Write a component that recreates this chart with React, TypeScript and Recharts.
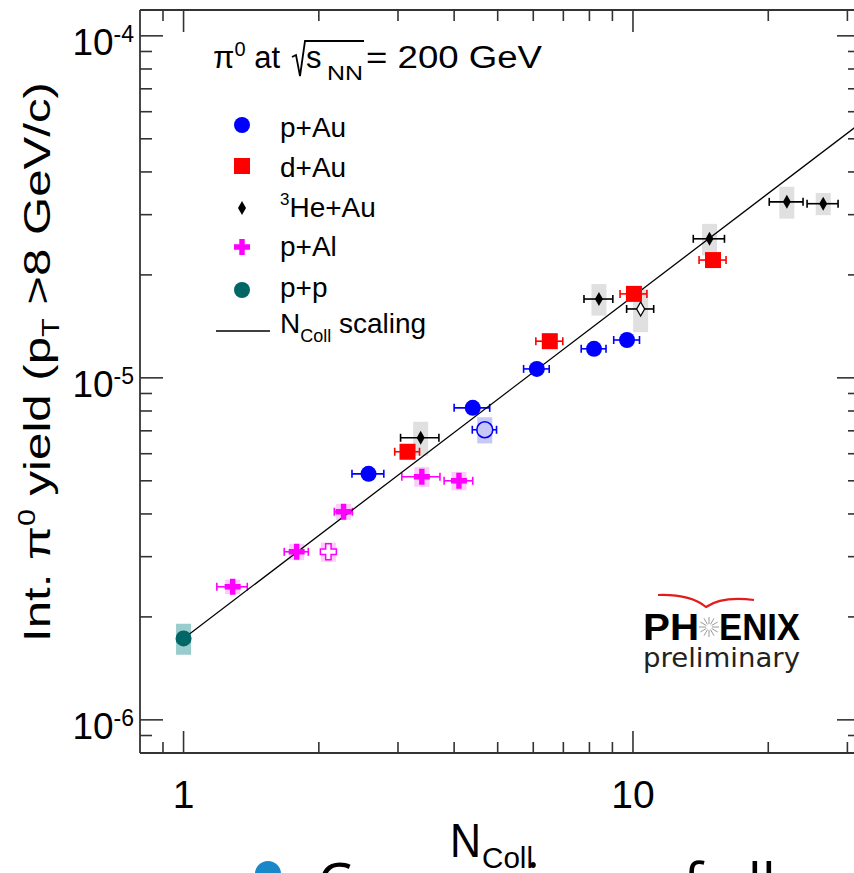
import { ScatterChart, Scatter, XAxis, YAxis, ErrorBar, ReferenceLine } from 'recharts'

const FONT = '"Liberation Sans", Arial, Helvetica, sans-serif'
const AXIS = '#333333'

// chart box and plot frame (ROOT style: ticks on all four sides)
const CHART_W = 862
const CHART_H = 873
const FRAME = { left: 140, right: 860, top: 10, bottom: 753 }

const X_DOMAIN = [0.8, 32]
const Y_DOMAIN = [8e-7, 1.19e-4]
const X_TICKS = [0.9, 1, 2, 3, 4, 5, 6, 7, 8, 9, 10, 20, 30]
const Y_TICKS = [
  9e-7, 1e-6, 2e-6, 3e-6, 4e-6, 5e-6, 6e-6, 7e-6, 8e-6, 9e-6,
  1e-5, 2e-5, 3e-5, 4e-5, 5e-5, 6e-5, 7e-5, 8e-5, 9e-5, 1e-4,
]

// p+Au
const P_AU_NCOLL = [2.58, 4.4, 6.11, 8.19, 9.7]
const P_AU_YIELD = [5.24e-6, 8.17e-6, 1.062e-5, 1.216e-5, 1.29e-5]
const P_AU_XERR = [0.21, 0.4, 0.4, 0.52, 0.64]
const P_AU_OPEN_NCOLL = [4.68]
const P_AU_OPEN_YIELD = [7.05e-6]
const P_AU_OPEN_XERR = [0.29]
const P_AU_OPEN_SYS = [0.62e-6]

// d+Au
const D_AU_NCOLL = [3.15, 6.53, 10.05, 15.07]
const D_AU_YIELD = [6.08e-6, 1.28e-5, 1.76e-5, 2.21e-5]
const D_AU_XERR = [0.2, 0.45, 0.69, 1.04]

// 3He+Au
const HE_AU_NCOLL = [3.37, 8.4, 14.8, 22.0, 26.5]
const HE_AU_YIELD = [6.68e-6, 1.7e-5, 2.55e-5, 3.27e-5, 3.23e-5]
const HE_AU_XERR = [0.33, 0.62, 1.18, 1.9, 2.1]
const HE_AU_SYS = [0.76e-6, 0.18e-5, 0.27e-5, 0.35e-5, 0.24e-5]
const HE_AU_OPEN_NCOLL = [10.4]
const HE_AU_OPEN_YIELD = [1.59e-5]
const HE_AU_OPEN_XERR = [0.72]
const HE_AU_OPEN_SYS = [0.23e-5]

// p+Al
const P_AL_NCOLL = [1.286, 1.785, 2.27, 3.39, 4.1]
const P_AL_YIELD = [2.45e-6, 3.1e-6, 4.06e-6, 5.14e-6, 5.0e-6]
const P_AL_XERR = [0.1, 0.11, 0.105, 0.33, 0.3]
const P_AL_SYS = [0.12e-6, 0.17e-6, 0.22e-6, 0.34e-6, 0.31e-6]
const P_AL_OPEN_NCOLL = [2.1]
const P_AL_OPEN_YIELD = [3.1e-6]
const P_AL_OPEN_SYS = [0.2e-6]

// p+p
const PP_NCOLL = [1]
const PP_YIELD = [1.73e-6]
const PP_SYS = [0.18e-6]

// N_coll scaling line
const SCALING_NCOLL = [1, 32]
const SCALING_YIELD = [1.73e-6, 5.54e-5]

const pts = (n: number[], y: number[], xe?: number[], sys?: number[]) =>
  n.map((x, i) => ({ x, y: y[i], xErr: xe ? xe[i] : 0, sys: sys ? sys[i] : 0 }))

const pAu = pts(P_AU_NCOLL, P_AU_YIELD, P_AU_XERR)
const pAuOpen = pts(P_AU_OPEN_NCOLL, P_AU_OPEN_YIELD, P_AU_OPEN_XERR, P_AU_OPEN_SYS)
const dAu = pts(D_AU_NCOLL, D_AU_YIELD, D_AU_XERR)
const heAu = pts(HE_AU_NCOLL, HE_AU_YIELD, HE_AU_XERR, HE_AU_SYS)
const heAuOpen = pts(HE_AU_OPEN_NCOLL, HE_AU_OPEN_YIELD, HE_AU_OPEN_XERR, HE_AU_OPEN_SYS)
const pAl = pts(P_AL_NCOLL, P_AL_YIELD, P_AL_XERR, P_AL_SYS)
const pAlOpen = pts(P_AL_OPEN_NCOLL, P_AL_OPEN_YIELD, undefined, P_AL_OPEN_SYS)
const pp = pts(PP_NCOLL, PP_YIELD, undefined, PP_SYS)
const scaling = pts(SCALING_NCOLL, SCALING_YIELD)

const isMajor = (v: number) => Math.abs(Math.log10(v) - Math.round(Math.log10(v))) < 1e-6

// marker shapes
const crossPath = (cx: number, cy: number, s = 8, t = 2.7) =>
  `M${cx - t},${cy - s}H${cx + t}V${cy - t}H${cx + s}V${cy + t}H${cx + t}V${cy + s}H${cx - t}V${cy + t}H${cx - s}V${cy - t}H${cx - t}Z`
const diamondPath = (cx: number, cy: number) =>
  `M${cx},${cy - 7}L${cx + 4},${cy}L${cx},${cy + 7}L${cx - 4},${cy}Z`

const Dot = (fill: string, stroke = 'none', sw = 0) => (p: any) =>
  <circle cx={p.cx} cy={p.cy} r={8} fill={fill} stroke={stroke} strokeWidth={sw} />
const Square = (p: any) => <rect x={p.cx - 8} y={p.cy - 8} width={16} height={16} fill="#ff0000" />
const Diamond = (p: any) => <path d={diamondPath(p.cx, p.cy)} fill="#000" />
const OpenDiamond = (p: any) => <path d={diamondPath(p.cx, p.cy)} fill="#fff" stroke="#000" strokeWidth={1.3} />
const Cross = (p: any) => <path d={crossPath(p.cx, p.cy)} fill="#ff00ff" />
const OpenCross = (p: any) => <path d={crossPath(p.cx, p.cy)} fill="#fff" stroke="#ff00ff" strokeWidth={1.5} />
const Nothing = () => <g />

function YTick(props: any) {
  const { y, payload } = props
  const v = payload.value
  const major = isMajor(v)
  const len = major ? 23 : 12
  return (
    <g>
      <line x1={FRAME.left} x2={FRAME.left + len} y1={y} y2={y} stroke={AXIS} strokeWidth={1.6} />
      <line x1={FRAME.right - len} x2={FRAME.right} y1={y} y2={y} stroke={AXIS} strokeWidth={1.6} />
      {major && (
        <text x={134} y={y + 19} textAnchor="end" fontFamily={FONT} fill="#000">
          <tspan fontSize={37}>10</tspan>
          <tspan fontSize={23} dy={-13}>{Math.round(Math.log10(v))}</tspan>
        </text>
      )}
    </g>
  )
}

function XTick(props: any) {
  const { x, payload } = props
  const v = payload.value
  const major = isMajor(v)
  const len = major ? 22 : 11
  return (
    <g>
      <line x1={x} x2={x} y1={FRAME.bottom - len} y2={FRAME.bottom} stroke={AXIS} strokeWidth={1.6} />
      <line x1={x} x2={x} y1={FRAME.top} y2={FRAME.top + len} stroke={AXIS} strokeWidth={1.6} />
      {major && (
        <text x={x} y={808} textAnchor="middle" fontFamily={FONT} fontSize={39} fill="#000">
          {v}
        </text>
      )}
    </g>
  )
}

function Overlay() {
  const legendRows = [
    { y: 137, label: 'p+Au' },
    { y: 177, label: 'd+Au' },
    { y: 217, label: 'He+Au' },
    { y: 256, label: 'p+Al' },
    { y: 297, label: 'p+p' },
  ]
  const fit = { lengthAdjust: 'spacingAndGlyphs' as const }
  return (
    <svg width={854} height={873} style={{ position: 'absolute', left: 0, top: 0, pointerEvents: 'none' }}>
      <g fontFamily={FONT} fill="#000" style={{ whiteSpace: 'pre' }}>
        {/* title */}
        <text x={213} y={68} fontSize={31} textLength={67} {...fit}>
          π<tspan fontSize={20} dy={-12}>0</tspan>
          <tspan dy={12}>{' at'}</tspan>
        </text>
        <path d="M292,57 L296,55 L300,76 L305,41 L364,41" fill="none" stroke="#000" strokeWidth={1.8} />
        <text x={306} y={68} fontSize={31}>s</text>
        <text x={327} y={80} fontSize={21} textLength={36} {...fit}>NN</text>
        <text x={366} y={68} fontSize={31} textLength={176} {...fit}>= 200 GeV</text>

        {/* legend */}
        <circle cx={242} cy={125} r={8} fill="#0000ff" />
        <rect x={234} y={158} width={16} height={16} fill="#ff0000" />
        <path d={diamondPath(242, 208)} fill="#000" />
        <path d={crossPath(242, 247)} fill="#ff00ff" />
        <circle cx={242} cy={290} r={8} fill="#006666" />
        <line x1={216} x2={270} y1={331} y2={331} stroke="#000" strokeWidth={1.3} />
        {legendRows.map((r) => (
          <text key={r.label} x={280} y={r.y} fontSize={28}>
            {r.label === 'He+Au' ? (
              <>
                <tspan fontSize={17} dy={-12}>3</tspan>
                <tspan dy={12}>He+Au</tspan>
              </>
            ) : r.label}
          </text>
        ))}
        <text x={280} y={333} fontSize={28}>
          N<tspan fontSize={18} dy={9}>Coll</tspan>
          <tspan dy={-9}>{' scaling'}</tspan>
        </text>

        {/* axis titles */}
        <text x={50} y={362} fontSize={37} textAnchor="middle" transform="rotate(-90 50 362)" textLength={560} {...fit}>
          Int. π<tspan fontSize={23} dy={-15}>0</tspan>
          <tspan dy={15}>{' yield  (p'}</tspan>
          <tspan fontSize={23} dy={9}>T</tspan>
          <tspan dy={-9}>{' >8 GeV/c)'}</tspan>
        </text>
        <text x={450} y={857} fontSize={49} textLength={31} {...fit}>N</text>
        <text x={482} y={868} fontSize={30} textLength={51} {...fit}>Coll</text>

        {/* PHENIX logo */}
        <path d="M658,595 Q690,594 706,607 Q722,596 754,600" fill="none" stroke="#e31b1b" strokeWidth={2.2} />
        <text x={643} y={640} fontSize={37} fontWeight="bold" textLength={56} {...fit}>PH</text>
        <g stroke="#9a9a9a" strokeWidth={1}>
          {Array.from({ length: 12 }, (_, i) => {
            const a = (i * Math.PI) / 6
            return <line key={i} x1={709 + 3 * Math.cos(a)} y1={627 + 3 * Math.sin(a)} x2={709 + 10 * Math.cos(a)} y2={627 + 10 * Math.sin(a)} />
          })}
        </g>
        <text x={719} y={640} fontSize={37} fontWeight="bold" textLength={81} {...fit}>ENIX</text>
        <text x={643} y={667} fontSize={27} fontFamily='"DejaVu Sans", sans-serif' fill="#222" textLength={157} {...fit}>preliminary</text>

        {/* cropped slide text below the figure */}
        <circle cx={268} cy={874} r={13} fill="#1a88c8" />
        <text x={317} y={904} fontSize={56} fontFamily='"Open Sans", sans-serif'>Comparison of all</text>
      </g>
    </svg>
  )
}

export default function App() {
  return (
    <div style={{ position: 'absolute', left: 0, top: 0, width: 854, height: 873, overflow: 'hidden', background: '#fff' }}>
      <ScatterChart width={CHART_W} height={CHART_H} margin={{ top: FRAME.top, right: CHART_W - FRAME.right, bottom: 0, left: 0 }}>
        <XAxis
          type="number"
          dataKey="x"
          scale="log"
          domain={X_DOMAIN}
          allowDataOverflow
          ticks={X_TICKS}
          interval={0}
          height={CHART_H - FRAME.bottom}
          tickLine={false}
          axisLine={{ stroke: AXIS, strokeWidth: 1.8 }}
          tick={<XTick />}
        />
        <YAxis
          type="number"
          dataKey="y"
          scale="log"
          domain={Y_DOMAIN}
          allowDataOverflow
          ticks={Y_TICKS}
          interval={0}
          width={FRAME.left}
          tickLine={false}
          axisLine={{ stroke: AXIS, strokeWidth: 1.8 }}
          tick={<YTick />}
        />
        <ReferenceLine y={Y_DOMAIN[1]} stroke={AXIS} strokeWidth={1.8} />
        <ReferenceLine x={X_DOMAIN[1]} stroke={AXIS} strokeWidth={1.8} />

        {/* systematic boxes */}
        <Scatter data={pp} shape={Nothing} isAnimationActive={false}>
          <ErrorBar dataKey="sys" direction="y" width={0} stroke="#99cccc" strokeWidth={15} isAnimationActive={false} />
        </Scatter>
        <Scatter data={pAl} shape={Nothing} isAnimationActive={false}>
          <ErrorBar dataKey="sys" direction="y" width={0} stroke="#fbcdfb" strokeWidth={15} isAnimationActive={false} />
        </Scatter>
        <Scatter data={pAlOpen} shape={Nothing} isAnimationActive={false}>
          <ErrorBar dataKey="sys" direction="y" width={0} stroke="#fbcdfb" strokeWidth={15} isAnimationActive={false} />
        </Scatter>
        <Scatter data={pAuOpen} shape={Nothing} isAnimationActive={false}>
          <ErrorBar dataKey="sys" direction="y" width={0} stroke="#c8c8f4" strokeWidth={15} isAnimationActive={false} />
        </Scatter>
        <Scatter data={heAu} shape={Nothing} isAnimationActive={false}>
          <ErrorBar dataKey="sys" direction="y" width={0} stroke="#e0e0e0" strokeWidth={15} isAnimationActive={false} />
        </Scatter>
        <Scatter data={heAuOpen} shape={Nothing} isAnimationActive={false}>
          <ErrorBar dataKey="sys" direction="y" width={0} stroke="#e0e0e0" strokeWidth={15} isAnimationActive={false} />
        </Scatter>

        {/* N_coll scaling */}
        <Scatter data={scaling} shape={Nothing} line={{ stroke: '#000', strokeWidth: 1.3 }} lineType="joint" isAnimationActive={false} />

        {/* data points */}
        <Scatter data={pAl} shape={Cross} isAnimationActive={false}>
          <ErrorBar dataKey="xErr" direction="x" width={4} stroke="#ff00ff" strokeWidth={1.6} isAnimationActive={false} />
        </Scatter>
        <Scatter data={pAlOpen} shape={OpenCross} isAnimationActive={false} />
        <Scatter data={pAu} shape={Dot('#0000ff')} isAnimationActive={false}>
          <ErrorBar dataKey="xErr" direction="x" width={4} stroke="#0000ff" strokeWidth={1.6} isAnimationActive={false} />
        </Scatter>
        <Scatter data={pAuOpen} shape={Dot('#c8c8f4', '#0000ff', 1.6)} isAnimationActive={false}>
          <ErrorBar dataKey="xErr" direction="x" width={4} stroke="#0000ff" strokeWidth={1.6} isAnimationActive={false} />
        </Scatter>
        <Scatter data={dAu} shape={Square} isAnimationActive={false}>
          <ErrorBar dataKey="xErr" direction="x" width={4} stroke="#ff0000" strokeWidth={1.6} isAnimationActive={false} />
        </Scatter>
        <Scatter data={heAu} shape={Diamond} isAnimationActive={false}>
          <ErrorBar dataKey="xErr" direction="x" width={4} stroke="#000" strokeWidth={1.6} isAnimationActive={false} />
        </Scatter>
        <Scatter data={heAuOpen} shape={OpenDiamond} isAnimationActive={false}>
          <ErrorBar dataKey="xErr" direction="x" width={4} stroke="#000" strokeWidth={1.6} isAnimationActive={false} />
        </Scatter>
        <Scatter data={pp} shape={Dot('#006666')} isAnimationActive={false} />
      </ScatterChart>
      <Overlay />
    </div>
  )
}
